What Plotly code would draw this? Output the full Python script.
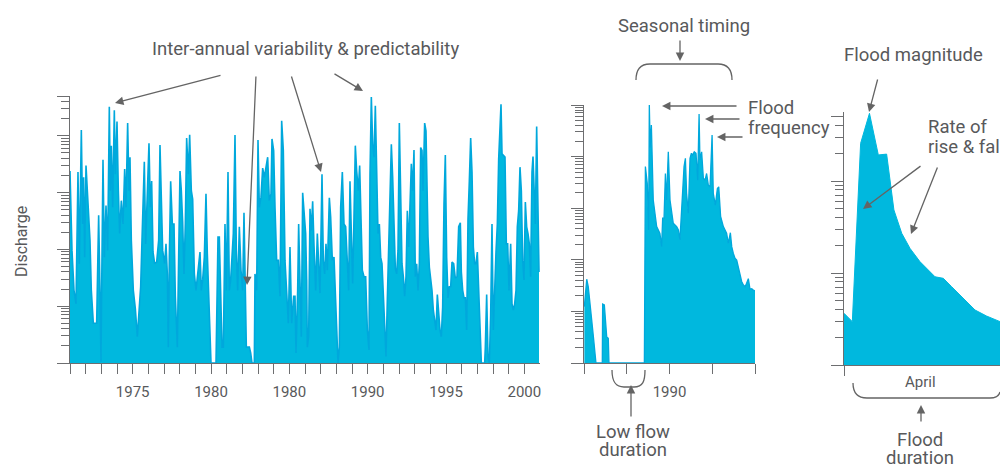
import plotly.graph_objects as go

W, H = 1000, 465

# ---------------- data ----------------
# Long-term record (decimal years, discharge)
left_years = [
    1971.000, 1971.127, 1971.255, 1971.383, 1971.510, 1971.595, 1971.723, 1971.808, 1971.872, 1971.936,
    1972.021, 1972.106, 1972.191, 1972.276, 1972.361, 1972.489, 1972.702, 1972.829, 1972.914, 1972.978,
    1973.021, 1973.106, 1973.191, 1973.298, 1973.404, 1973.510, 1973.574, 1973.638, 1973.723, 1973.829,
    1973.893, 1974.000, 1974.085, 1974.170, 1974.276, 1974.383, 1974.489, 1974.574, 1974.680, 1974.766,
    1974.829, 1974.914, 1975.042, 1975.170, 1975.298, 1975.404, 1975.510, 1975.595, 1975.744, 1975.829,
    1975.936, 1976.042, 1976.127, 1976.212, 1976.298, 1976.404, 1976.532, 1976.659, 1976.744, 1976.829,
    1976.914, 1977.042, 1977.127, 1977.212, 1977.276, 1977.340, 1977.425, 1977.532, 1977.638, 1977.723,
    1977.851, 1977.936, 1978.021, 1978.106, 1978.191, 1978.276, 1978.361, 1978.446,
    1978.553, 1978.638, 1978.744, 1978.830, 1978.936, 1979.042, 1979.149, 1979.298, 1979.383, 1979.468,
    1979.574, 1979.680, 1979.766, 1979.851, 1979.936, 1980.000, 1980.319, 1980.361, 1980.447, 1980.532,
    1980.617, 1980.702, 1980.787, 1980.893, 1980.979, 1981.085, 1981.170, 1981.255, 1981.340, 1981.425,
    1981.532, 1981.617, 1981.702, 1981.808, 1981.915, 1982.021, 1982.106, 1982.191, 1982.255, 1982.447,
    1982.532, 1982.617, 1982.766, 1982.808, 1982.915, 1983.000, 1983.085, 1983.191, 1983.298, 1983.404,
    1983.510, 1983.617, 1983.723, 1983.830, 1983.893, 1984.000, 1984.085, 1984.191, 1984.298, 1984.404,
    1984.510, 1984.617, 1984.723, 1984.830, 1984.936, 1985.042, 1985.149, 1985.276, 1985.362, 1985.425,
    1985.532, 1985.595, 1985.680, 1985.766, 1985.851, 1985.936,
    1986.042, 1986.106, 1986.149, 1986.234, 1986.319, 1986.404, 1986.489, 1986.574, 1986.681, 1986.787,
    1986.872, 1986.957, 1987.085, 1987.170, 1987.255, 1987.340, 1987.425, 1987.553, 1987.638, 1987.745,
    1987.851, 1987.957, 1988.042, 1988.106, 1988.191, 1988.276, 1988.383, 1988.489, 1988.596, 1988.702,
    1988.787, 1988.872, 1988.957, 1989.042, 1989.127, 1989.212, 1989.298, 1989.404, 1989.489, 1989.574,
    1989.659, 1989.766, 1989.872, 1989.979, 1990.085, 1990.149, 1990.234, 1990.319, 1990.404, 1990.489,
    1990.574, 1990.659, 1990.745, 1990.830, 1990.915, 1991.000, 1991.085, 1991.170, 1991.255, 1991.340,
    1991.425, 1991.511, 1991.596, 1991.681, 1991.766, 1991.851, 1991.936, 1992.021, 1992.106, 1992.191,
    1992.277, 1992.362, 1992.447, 1992.532, 1992.617, 1992.702, 1992.787, 1992.872, 1992.957, 1993.042,
    1993.128, 1993.213, 1993.298, 1993.383, 1993.468,
    1993.532, 1993.638, 1993.723, 1993.787, 1993.851, 1993.936, 1994.021, 1994.106, 1994.191, 1994.277,
    1994.362, 1994.447, 1994.532, 1994.617, 1994.702, 1994.787, 1994.872, 1994.957, 1995.042, 1995.128,
    1995.213, 1995.298, 1995.383, 1995.489, 1995.596, 1995.702, 1995.809, 1995.915, 1995.979, 1996.064,
    1996.149, 1996.234, 1996.319, 1996.404, 1996.489, 1996.575, 1996.660, 1996.745, 1996.830, 1996.915,
    1997.000, 1997.085, 1997.170, 1997.255, 1997.468, 1997.510, 1997.596, 1997.681, 1997.766, 1997.851,
    1997.936, 1998.021, 1998.191, 1998.277, 1998.362, 1998.447, 1998.511, 1998.575, 1998.681, 1998.766,
    1998.851, 1998.936, 1999.021, 1999.128, 1999.213, 1999.298, 1999.383, 1999.468, 1999.553, 1999.638,
    1999.723, 1999.809, 1999.894, 1999.979, 2000.064, 2000.149, 2000.234, 2000.319, 2000.404, 2000.489,
    2000.553, 2000.617, 2000.702, 2000.787, 2000.872, 2000.936,
]
left_discharge = [
    2400, 96, 19, 11, 2300, 56, 12600, 280, 1860, 73,
    3000, 1080, 630, 145, 19, 5, 5, 400, 19, 1.05,
    19, 3800, 73, 590, 96, 32300, 1080, 6700, 550, 28200,
    2100, 17800, 1080, 190, 720, 280, 2600, 550, 16700, 1080,
    4200, 145, 19, 9.1, 2.9, 8.5, 22, 145, 3500, 125,
    1080, 7400, 550, 1600, 90, 56, 60, 145, 6900, 550,
    96, 56, 125, 37, 1.9, 73, 1580, 280, 280, 15,
    1.9, 73, 2400, 1080, 300, 37, 280, 9100,
    2100, 10400, 1080, 770, 37, 19, 33, 90, 19, 29,
    73, 950, 84, 19, 1.9, 1, 1, 3.8, 165, 165,
    13, 1.9, 1.9, 280, 19, 2300, 19, 29, 73, 190,
    10300, 96, 19, 250, 43, 19, 440, 19, 1.9, 1.9,
    1.5, 1, 1, 37, 19, 8400, 550, 830, 2700, 1860,
    2800, 4200, 720, 950, 8800, 5500, 550, 64, 64, 15,
    18300, 5500, 64, 19, 5, 110, 5, 15, 15, 1.5,
    19, 280, 19, 2.9, 990, 400,
    190, 29, 1.9, 2.9, 520, 215, 700, 118, 19, 190,
    73, 17, 2100, 64, 37, 125, 43, 810, 370, 64,
    73, 15, 2.5, 1, 1.9, 550, 2300, 280, 250, 56,
    19, 1580, 96, 25, 370, 6700, 2400, 1080, 3000, 280,
    43, 33, 33, 3.8, 1.7, 2100, 48300, 7100, 4200, 33600,
    1080, 190, 280, 73, 56, 13, 2.9, 1.3, 13, 110,
    720, 7100, 1860, 280, 46, 37, 96, 16700, 1080, 56,
    33, 15, 33, 480, 110, 480, 3200, 1080, 5600, 33,
    56, 19, 56, 6200, 5500,
    1080, 16700, 12200, 550, 165, 49, 33, 19, 8.5, 5.7,
    3.8, 16, 7.9, 3.8, 2.9, 9.7, 630, 4600, 73, 14,
    22, 22, 60, 56, 31, 33, 250, 295, 40, 19,
    14, 14, 3.8, 345, 1600, 9100, 2300, 110, 56, 56,
    90, 15, 3.8, 1, 1, 1.9, 16, 1.3, 1, 6.9,
    280, 3.8, 90, 280, 3900, 13100, 36000, 4800, 4500, 4200,
    125, 125, 19, 125, 11, 8.5, 11, 19, 250, 480,
    2800, 1080, 64, 29, 680, 250, 190, 125, 33, 2300,
    4300, 950, 280, 14600, 370, 40,
]

# One year around 1990 (decimal years, discharge)
mid_years = [
    1989.502, 1989.516, 1989.525, 1989.535, 1989.545, 1989.555, 1989.564, 1989.570, 1989.607, 1989.609,
    1989.619, 1989.625, 1989.633, 1989.642, 1989.646, 1989.853, 1989.859, 1989.870, 1989.878, 1989.882,
    1989.887, 1989.894, 1989.905, 1989.925, 1989.944, 1989.954, 1989.960, 1989.968, 1989.976, 1989.983,
    1989.993, 1990.003, 1990.022, 1990.042, 1990.052, 1990.061, 1990.071, 1990.077, 1990.085, 1990.093,
    1990.100, 1990.110, 1990.120, 1990.128, 1990.135, 1990.145, 1990.155, 1990.165, 1990.173, 1990.178,
    1990.188, 1990.198, 1990.208, 1990.217, 1990.227, 1990.237, 1990.249, 1990.256, 1990.268, 1990.280,
    1990.288, 1990.299, 1990.315, 1990.334, 1990.344, 1990.356, 1990.364, 1990.373, 1990.383, 1990.393,
    1990.403, 1990.412, 1990.422, 1990.432, 1990.442, 1990.451, 1990.461, 1990.471, 1990.481, 1990.490,
    1990.500,
]
mid_discharge = [
    12.4, 42, 30, 12.4, 6.8, 3.2, 1.5, 1, 1, 13.9,
    13.3, 7.9, 3.2, 3.0, 1, 1, 6400, 3000, 380, 100000,
    15000, 41000, 1440, 440, 326, 180, 640, 640, 4700, 1440,
    12400, 1440, 510, 440, 380, 242, 1150, 1940, 6400, 9250,
    1940, 800, 9250, 11600, 10700, 12400, 11600, 3500, 67000, 8600,
    12400, 3800, 3500, 4700, 2800, 2600, 26200, 1940, 1150, 2400,
    2600, 690, 440, 326, 208, 335, 180, 134, 107, 99,
    73, 55, 38, 32.5, 30, 35, 43, 26.8, 27.5, 26,
    24.8,
]

# One flood event in April (day, discharge)
right_days = [0, 1.6, 3.2, 4.9, 6.6, 8.2, 9.6, 11.1, 12.7, 14.6, 17.5, 19.1, 20.7, 22.9, 25.2, 27.4, 30]
right_discharge = [3.65, 2.96, 257, 544, 192, 196, 48.4, 27, 18.5, 13.3, 9.1, 8.75, 7.1, 5.3, 3.96, 3.41, 2.96]

left_tick_years = list(range(1971, 2001))
left_label_years = [1975, 1980, 1985, 1990, 1995, 2000]
left_label_text = ["1975", "1980", "1980", "1990", "1995", "2000"]

mid_tick_years = [1989.5, 1989.75, 1990.0, 1990.25, 1990.5]
mid_tick_text = ["", "", "1990", "", ""]

# ---------------- style ----------------
FILL = "#00b8de"
LINE = "#00a8dc"
AX = "#6d6e70"
TXT = "#58595b"
ARR = "#646464"
FONT = "Roboto, Liberation Sans, sans-serif"
LBL = 18.5
TICK = 15

fig = go.Figure()


def area(xs, ys, n, line_color, lw):
    xa = "x" if n == 1 else f"x{n}"
    ya = "y" if n == 1 else f"y{n}"
    fig.add_trace(go.Scatter(x=[xs[0], xs[-1]], y=[1, 1], mode="lines", line=dict(width=0),
                             xaxis=xa, yaxis=ya, showlegend=False, hoverinfo="skip"))
    fig.add_trace(go.Scatter(x=xs, y=ys, mode="lines", fill="tonexty", fillcolor=FILL,
                             line=dict(color=line_color, width=lw), xaxis=xa, yaxis=ya,
                             showlegend=False))


area(left_years, left_discharge, 1, LINE, 1.6)
area(mid_years, mid_discharge, 2, LINE, 1.3)
area(right_days, right_discharge, 3, FILL, 1)


def log_ticks(max_exp, top):
    majors = [10 ** k for k in range(0, max_exp + 1) if 10 ** k <= top]
    if top not in majors:
        majors.append(top)
    minors = [m * 10 ** k for k in range(0, max_exp + 1) for m in range(2, 10)
              if m * 10 ** k < top]
    return majors, minors


def yaxis(domain, rng, top, max_exp, anchor):
    majors, minors = log_ticks(max_exp, top)
    return dict(type="log", domain=domain, range=rng, anchor=anchor,
                tickmode="array", tickvals=majors, ticks="outside", ticklen=12,
                tickwidth=1.2, tickcolor=AX, showticklabels=False,
                minor=dict(tickmode="array", tickvals=minors, ticks="outside", ticklen=8,
                           tickwidth=1, tickcolor=AX, showgrid=False),
                showline=True, linecolor=AX, linewidth=1.2, showgrid=False, zeroline=False)


def xaxis(domain, rng, vals, text, anchor):
    return dict(domain=domain, range=rng, anchor=anchor, tickmode="array", tickvals=vals,
                ticktext=text, ticks="outside", ticklen=10, tickwidth=1.2, tickcolor=AX,
                showline=True, linecolor=AX, linewidth=1.2, showgrid=False, zeroline=False,
                layer="below traces", ticklabelstandoff=5,
                tickfont=dict(family=FONT, size=TICK, color=TXT))


def py(y):
    return 1 - y / H


left_text = [left_label_text[left_label_years.index(y)] if y in left_label_years else ""
             for y in left_tick_years]

fig.update_layout(
    width=W, height=H, autosize=False,
    margin=dict(l=0, r=0, t=0, b=0),
    paper_bgcolor="white", plot_bgcolor="white",
    xaxis=xaxis([0.070, 0.540], [1971, 2001], left_tick_years, left_text, "y"),
    yaxis=yaxis([py(363), py(96)], [0, 4.7], 50000, 4, "x"),
    xaxis2=xaxis([0.584, 0.755], [1989.5, 1990.5], mid_tick_years, mid_tick_text, "y2"),
    yaxis2=yaxis([py(363), py(105)], [0, 5], 100000, 5, "x2"),
    xaxis3=xaxis([0.844, 1.0], [0, 30], [0], [""], "y3"),
    yaxis3=yaxis([py(365), py(112)], [0, 2.75], 500, 2, "x3"),
)

ann = []


def label(text, x, y, size=LBL, anchor="center", angle=0):
    ann.append(dict(text=text, x=x / W, y=py(y), xref="paper", yref="paper", showarrow=False,
                    xanchor=anchor, yanchor="middle", textangle=angle,
                    font=dict(family=FONT, size=size, color=TXT)))


def arrow(hx, hy, tx, ty):
    ann.append(dict(text="", x=hx / W, y=py(hy), xref="paper", yref="paper",
                    ax=tx - hx, ay=ty - hy, axref="pixel", ayref="pixel", showarrow=True,
                    arrowhead=2, arrowsize=1.3, arrowwidth=1.3, arrowcolor=ARR, standoff=0))


label("Discharge", 22, 242, size=16, angle=-90)
label("Inter-annual variability &amp; predictability", 305, 49)
arrow(115, 103, 222, 75)
arrow(247, 285, 256, 75)
arrow(321, 172, 291, 75)
arrow(363, 91, 333, 73)

label("Seasonal timing", 684, 26)
arrow(680, 61, 680, 39)
label("Flood", 746, 108, anchor="left")
label("frequency", 746, 128, anchor="left")
arrow(662, 106, 738, 106)
arrow(705, 119, 741, 119)
arrow(717, 137, 744, 137)

label("April", 920, 382, size=TICK)
label("Low flow", 633, 432)
label("duration", 633, 450)
arrow(631, 385, 631, 418)

label("Flood magnitude", 913, 55)
arrow(869, 112, 878, 78)
label("Rate of", 926, 127, anchor="left")
label("rise &amp; fall", 926, 147, anchor="left")
arrow(863, 209, 922, 165)
arrow(911, 234, 938, 166)

label("Flood", 920, 440)
label("duration", 920, 458)
arrow(921, 405, 921, 423)

fig.update_layout(annotations=ann)


def P(x, y):
    return f"{x / W:.5f},{py(y):.5f}"


brackets = [
    f"M {P(636, 80)} C {P(636, 70)} {P(640, 64)} {P(650, 64)} L {P(718, 64)} "
    f"C {P(728, 64)} {P(732, 70)} {P(732, 80)}",
    f"M {P(612, 370)} C {P(612, 381)} {P(615, 387)} {P(624, 387)} L {P(634, 387)} "
    f"C {P(643, 387)} {P(645, 381)} {P(645, 370)}",
    f"M {P(853, 383)} C {P(853, 393)} {P(857, 398)} {P(867, 398)} L {P(990, 398)} "
    f"C {P(996, 398)} {P(999, 396)} {P(1000, 392)}",
]
fig.update_layout(shapes=[dict(type="path", path=p, xref="paper", yref="paper",
                               line=dict(color=ARR, width=1.3)) for p in brackets])

fig.write_html("out.html", config={"displayModeBar": False},
               post_script="document.body.style.margin='0px';document.body.style.overflow='hidden';")
